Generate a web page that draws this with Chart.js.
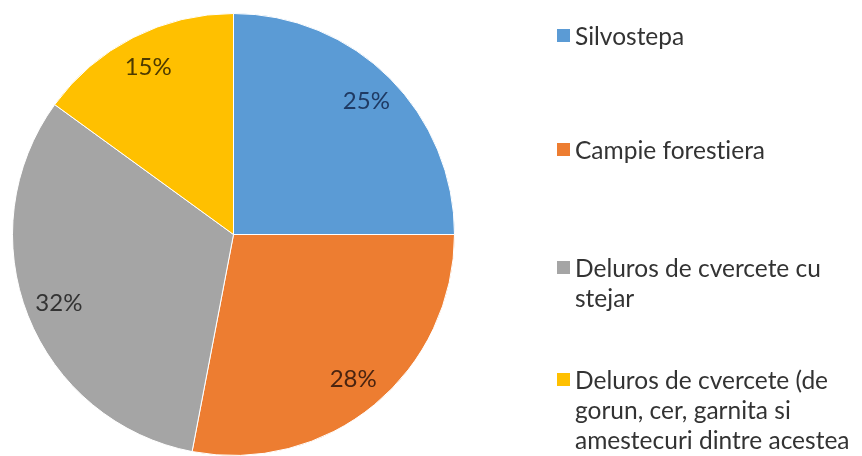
<!DOCTYPE html>
<html>
<head>
<meta charset="utf-8">
<script src="https://cdn.jsdelivr.net/npm/chart.js@4"></script>
<style>
  html, body { margin: 0; padding: 0; background: #fff; }
  #wrap { position: relative; width: 862px; height: 456px; overflow: hidden; }
  #c { position: absolute; left: 0; top: 0; }
  .leg { position: absolute; left: 557px; font-family: Lato, "Noto Sans", sans-serif; font-size: 24.5px; line-height: 30px; color: #333333; white-space: nowrap; font-variant-ligatures: none; }
  .leg .sw { position: absolute; left: 0; top: 8px; width: 13px; height: 13px; }
  .leg .tx { margin-left: 18px; }
</style>
</head>
<body>
<div id="wrap">
  <canvas id="c" width="862" height="456"></canvas>
</div>
<script>
const categories = [
  ["Silvostepa"],
  ["Campie forestiera"],
  ["Deluros de cvercete cu", "stejar"],
  ["Deluros de cvercete (de", "gorun, cer, garnita si", "amestecuri dintre acestea"]
];
const values = [25, 28, 32, 15];
const colors = ["#5B9BD5", "#ED7D31", "#A5A5A5", "#FFC000"];
const labelColors = ["#1F3A63", "#4A2410", "#333333", "#4D3A00"];
const legendTops = [21, 135, 253, 365];

const pctLabels = {
  id: 'pctLabels',
  afterDatasetsDraw(chart) {
    const ctx = chart.ctx;
    const meta = chart.getDatasetMeta(0);
    const data = chart.data.datasets[0].data;
    const total = data.reduce((a, b) => a + b, 0);
    ctx.save();
    ctx.font = '24px Lato, "Noto Sans", sans-serif';
    ctx.textAlign = 'center';
    ctx.textBaseline = 'middle';
    meta.data.forEach((arc, i) => {
      const p = arc.getProps(['x', 'y', 'startAngle', 'endAngle', 'outerRadius'], true);
      const mid = (p.startAngle + p.endAngle) / 2;
      const r = p.outerRadius * 0.85;
      const x = p.x + Math.cos(mid) * r;
      const y = p.y + Math.sin(mid) * r;
      ctx.fillStyle = labelColors[i];
      ctx.fillText(Math.round(data[i] / total * 100) + '%', x, y);
    });
    ctx.restore();
  }
};

const chart = new Chart(document.getElementById('c'), {
  type: 'pie',
  data: {
    labels: categories.map(l => l.join(' ')),
    datasets: [{
      data: values,
      backgroundColor: colors,
      borderColor: '#ffffff',
      borderWidth: 1
    }]
  },
  options: {
    responsive: false,
    animation: false,
    layout: { padding: { left: 11, right: 406, top: 13, bottom: 0 } },
    plugins: {
      legend: { display: false },
      tooltip: { enabled: false }
    }
  },
  plugins: [pctLabels]
});

// HTML legend built from the chart's own data
const wrap = document.getElementById('wrap');
chart.data.labels.forEach((_, i) => {
  const item = document.createElement('div');
  item.className = 'leg';
  item.style.top = legendTops[i] + 'px';
  const sw = document.createElement('div');
  sw.className = 'sw';
  sw.style.background = chart.data.datasets[0].backgroundColor[i];
  const tx = document.createElement('div');
  tx.className = 'tx';
  tx.innerHTML = categories[i].map(s => s.replace(/&/g, '&amp;')).join('<br>');
  item.appendChild(sw);
  item.appendChild(tx);
  wrap.appendChild(item);
});
</script>
</body>
</html>
